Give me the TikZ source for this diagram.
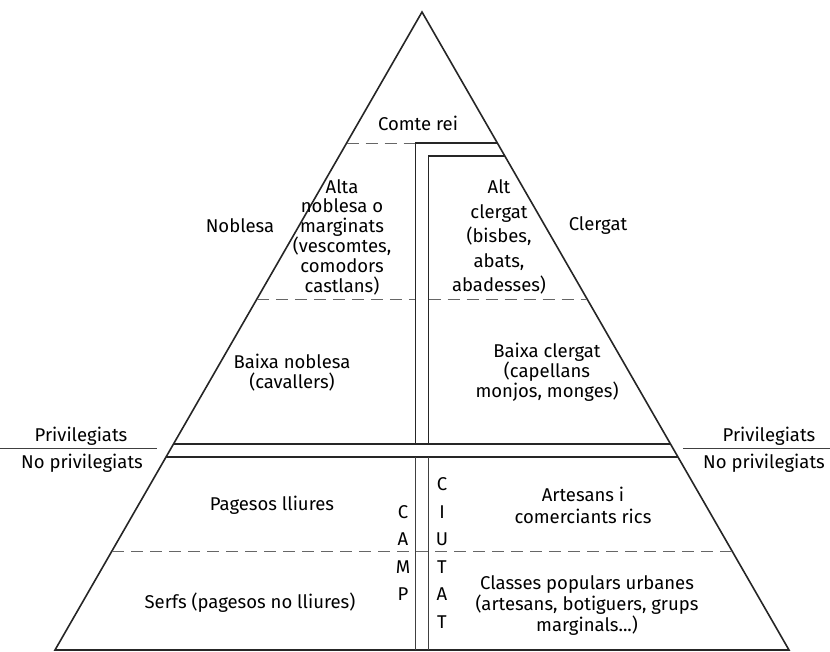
\documentclass[tikz,border=0pt]{standalone}
\usepackage{fontspec}
\setmainfont{Fira Sans}
\usetikzlibrary{positioning}
\tikzset{
  edge/.style={line width=1.6pt, black!85},
  wall/.style={line width=1.3pt, black!85},
  thin/.style={line width=0.8pt, black!75},
  cut/.style={line width=0.8pt, black!60, dash pattern=on 12pt off 7pt},
  lbl/.style={align=center, inner sep=0pt, font=\fontsize{18.5}{19.8}\selectfont},
  vlbl/.style={align=center, inner sep=0pt, font=\fontsize{18.5}{27.5}\selectfont}
}
\begin{document}
\begin{tikzpicture}[x=1pt,y=-1pt]
\useasboundingbox (0,0) rectangle (830,651);
% triangle
\coordinate (apex) at (422,12);
\coordinate (bl) at (55,650);
\coordinate (br) at (789,650);
\draw[edge, line join=miter] (apex) -- (bl) -- (br) -- cycle;
% dashed levels
\draw[cut] (346.6,143) -- (415.5,143);
\draw[cut] (256.9,299) -- (415.5,299) (428.5,299) -- (587.1,299);
\draw[cut] (112,551) -- (732,551);
% double walls
\draw[wall] (415.5,444) -- (415.5,143) -- (497.4,143);
\draw[wall] (428.5,444) -- (428.5,156) -- (504.8,156);
\draw[wall] (173.5,444) -- (670.5,444);
\draw[wall] (166,457) -- (678,457);
\draw[thin] (415.5,457) -- (415.5,650) (428.5,457) -- (428.5,650);
% privilegiats
\draw[thin] (0,448.5) -- (157,448.5) (683,448.5) -- (830,448.5);
\node[lbl] (privL) at (81,436) {Privilegiats};
\node[lbl] (noprivL) at (82,463) {No privilegiats};
\node[lbl] (privR) at (769,436) {Privilegiats};
\node[lbl] (noprivR) at (764,463) {No privilegiats};
% nodes
\node[lbl] (comte) at (418,123) {Comte rei};
\node[lbl] (noblesa) at (240,226) {Noblesa};
\node[lbl] (clergat) at (598,226) {Clergat};
\node[lbl] (alta) at (342,237) {Alta\\noblesa o\\marginats\\(vescomtes,\\comodors\\castlans)};
\node[lbl, font=\fontsize{18.5}{24.5}\selectfont] (alt) at (499,237) {Alt\\clergat\\(bisbes,\\abats,\\abadesses)};
\node[lbl] (baixanob) at (292,373) {Baixa noblesa\\(cavallers)};
\node[lbl] (baixacle) at (547,372) {Baixa clergat\\(capellans\\monjos, monges)};
\node[lbl] (pagesos) at (272,505) {Pagesos lliures};
\node[lbl, font=\fontsize{18.5}{22}\selectfont] (artesans) at (583,505) {Artesans i\\comerciants rics};
\node[lbl] (serfs) at (250,603) {Serfs (pagesos no lliures)};
\node[lbl, font=\fontsize{18.5}{21}\selectfont] (classes) at (587,606) {Classes populars urbanes\\(artesans, botiguers, grups\\marginals...)};
\node[vlbl] (camp) at (403,553) {C\\A\\M\\P};
\node[vlbl] (ciutat) at (442,553) {C\\I\\U\\T\\A\\T};
\end{tikzpicture}
\end{document}
